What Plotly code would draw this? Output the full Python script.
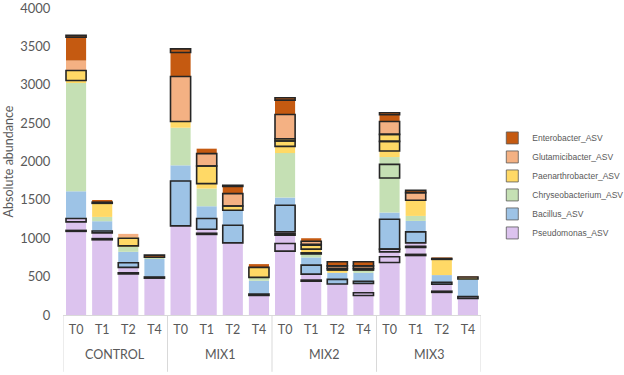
import plotly.graph_objects as go

# ---------------- data ----------------
group_names = ["CONTROL", "MIX1", "MIX2", "MIX3"]
time_points = ["T0", "T1", "T2", "T4"]
groups = [g for g in group_names for _ in time_points]
times = time_points * len(group_names)

# each bar: list of (abundance, outlined ASV flag) from bottom to top within the genus
pseudomonas = [
    [(1090, 0), (12, 1), (111, 0), (44, 1), (8, 0)],
    [(980, 0), (15, 1), (75, 0)],
    [(535, 0), (15, 1), (70, 0)],
    [(480, 0), (15, 1)],
    [(1161, 0)],
    [(1050, 0), (15, 1), (53, 0)],
    [(940, 0)],
    [(255, 0)],
    [(832, 0), (100, 1), (108, 0), (20, 1), (23, 0)],
    [(440, 0), (15, 1), (78, 0)],
    [(403, 0)],
    [(255, 0), (35, 1), (122, 0)],
    [(685, 0), (73, 1), (65, 0), (35, 1)],
    [(775, 0), (15, 1), (90, 0), (15, 1), (45, 0)],
    [(295, 0), (15, 1), (90, 0)],
    [(215, 0), (25, 1)],
]
bacillus = [
    [(347, 0)],
    [(25, 1), (127, 0)],
    [(60, 1), (143, 0)],
    [(235, 0)],
    [(585, 1), (204, 0)],
    [(139, 1), (160, 0)],
    [(230, 1), (195, 0)],
    [(18, 1), (173, 0)],
    [(347, 1), (100, 0)],
    [(117, 1), (100, 0)],
    [(61, 1), (86, 0)],
    [(28, 1), (110, 0)],
    [(390, 1), (87, 0)],
    [(143, 1), (143, 0)],
    [(25, 1), (95, 0)],
    [(220, 0)],
]
chryseobacterium = [
    [(1421, 0)],
    [(56, 0)],
    [(65, 0)],
    [(22, 0)],
    [(490, 0)],
    [(230, 0)],
    [],
    [(44, 0)],
    [(580, 0)],
    [(45, 0), (15, 1)],
    [],
    [(35, 0)],
    [(450, 0), (178, 1), (95, 0)],
    [(65, 0)],
    [],
    [(10, 0)],
]
paenarthrobacter = [
    [(22, 0), (130, 1)],
    [(177, 0), (15, 1)],
    [(13, 0), (99, 1), (10, 0)],
    [],
    [(82, 0)],
    [(65, 0), (229, 1)],
    [(56, 1)],
    [(130, 1)],
    [(87, 0), (70, 1), (30, 1)],
    [(48, 0), (52, 1), (10, 0)],
    [(35, 0), (20, 1)],
    [(20, 1)],
    [(78, 0), (126, 1), (91, 1)],
    [(204, 0)],
    [(205, 0), (12, 1)],
    [(25, 1)],
]
glutamicibacter = [
    [(130, 0)],
    [(8, 0)],
    [(47, 0)],
    [],
    [(585, 1)],
    [(161, 1)],
    [(161, 1)],
    [],
    [(316, 1)],
    [(40, 1)],
    [(35, 1)],
    [(35, 1)],
    [(169, 1)],
    [(100, 1)],
    [(12, 0)],
    [(12, 0)],
]
enterobacter = [
    [(305, 0), (24, 1)],
    [(17, 0)],
    [],
    [(28, 1)],
    [(313, 0), (47, 1)],
    [(65, 0)],
    [(93, 0), (15, 1)],
    [(43, 0)],
    [(187, 0), (30, 1)],
    [(40, 0)],
    [(53, 1)],
    [(53, 1)],
    [(88, 0), (25, 1)],
    [(30, 1)],
    [],
    [],
]

genera = [
    ("Pseudomonas_ASV", pseudomonas, "#DCC3EE"),
    ("Bacillus_ASV", bacillus, "#9DC3E6"),
    ("Chryseobacterium_ASV", chryseobacterium, "#C5E0B4"),
    ("Paenarthrobacter_ASV", paenarthrobacter, "#FFD966"),
    ("Glutamicibacter_ASV", glutamicibacter, "#F4B183"),
    ("Enterobacter_ASV", enterobacter, "#C55A11"),
]

# ---------------- figure ----------------
keys = [f"{g} {t}" for g, t in zip(groups, times)]
fig = go.Figure()
n = len(keys)
cum = [0] * n
box_b, box_base, box_h = [], [], []

for name, segs, color in genera:
    K = max(len(s) for s in segs)
    for k in range(K):
        ys, bases = [], []
        for b in range(n):
            if k < len(segs[b]):
                v, boxed = segs[b][k]
                ys.append(v)
                bases.append(cum[b])
                if boxed:
                    box_b.append(b)
                    box_base.append(cum[b])
                    box_h.append(v)
                cum[b] += v
            else:
                ys.append(None)
                bases.append(0)
        fig.add_trace(go.Bar(
            x=keys, y=ys, base=bases, name=name,
            marker=dict(color=color, line=dict(width=0)),
            showlegend=False, hoverinfo="skip"))

# outlined ASV boxes drawn on top
fig.add_trace(go.Bar(
    x=[keys[b] for b in box_b], y=box_h, base=box_base,
    marker=dict(color="rgba(0,0,0,0)", line=dict(color="#262626", width=1.6)),
    showlegend=False, hoverinfo="skip"))

# legend entries (top to bottom)
for name, segs, color in reversed(genera):
    fig.add_trace(go.Bar(
        x=[keys[0]], y=[None], name=name,
        marker=dict(color=color, line=dict(color="#595959", width=0.8)),
        showlegend=True))

# group labels and dividers below the axis
ng = len(time_points)
for i, g in enumerate(group_names):
    fig.add_annotation(x=i * ng + (ng - 1) / 2, xref="x", y=-0.13, yref="paper",
                       text=g, showarrow=False, yanchor="middle",
                       font=dict(family="Lato", size=12.5, color="#595959"))
for i in range(len(group_names) + 1):
    fig.add_shape(type="line", xref="x", yref="paper",
                  x0=i * ng - 0.5, x1=i * ng - 0.5, y0=0, y1=-0.185,
                  line=dict(color="#D9D9D9", width=1))

fig.update_layout(
    width=624, height=375,
    margin=dict(l=63, r=143, t=8, b=60, autoexpand=False),
    barmode="overlay", bargap=0.23,
    plot_bgcolor="white", paper_bgcolor="white",
    font=dict(family="Lato", color="#595959"),
    legend=dict(x=1.027, xanchor="left", y=0.422, yanchor="middle",
                font=dict(family="Liberation Sans", size=8.5, color="#595959"),
                traceorder="normal", bgcolor="rgba(0,0,0,0)"),
)
fig.update_xaxes(
    type="category", range=[-0.5, n - 0.5],
    tickvals=keys, ticktext=times,
    showline=True, linecolor="#D9D9D9", linewidth=1,
    ticks="outside", ticklen=3, tickcolor="rgba(0,0,0,0)",
    tickfont=dict(size=12.5, color="#595959"), showgrid=False)
fig.update_yaxes(
    range=[0, 4000], dtick=500, showgrid=False, zeroline=False, showline=False,
    ticks="outside", ticklen=9, tickcolor="rgba(0,0,0,0)",
    ticklabeloverflow="allow",
    tickfont=dict(size=13, color="#595959"),
    title=dict(text="Absolute abundance", font=dict(size=12.5, color="#595959"), standoff=3))

fig.write_html("out.html")
